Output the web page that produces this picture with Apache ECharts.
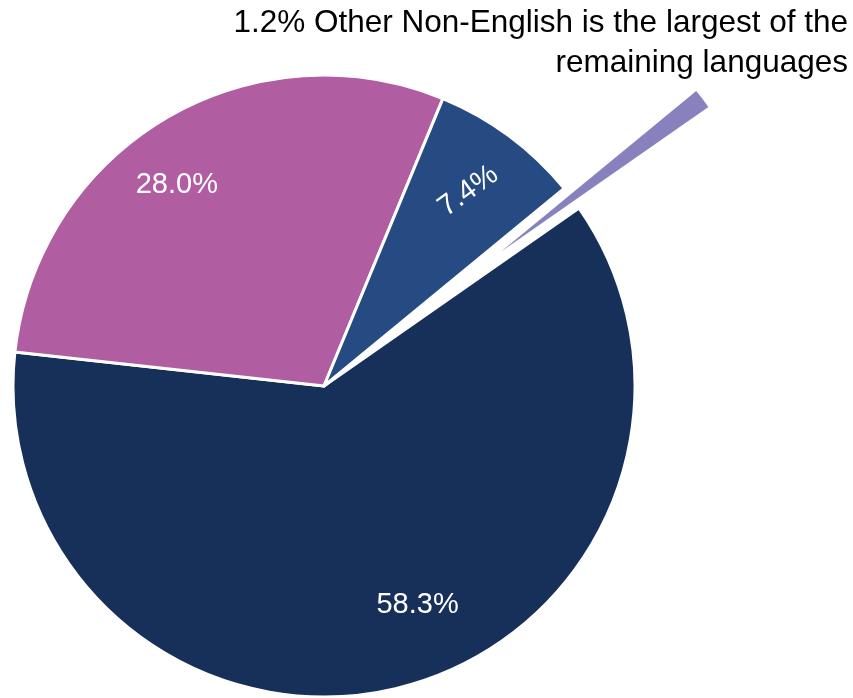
<!DOCTYPE html>
<html>
<head>
<meta charset="utf-8">
<script src="https://cdn.jsdelivr.net/npm/echarts@6/dist/echarts.min.js"></script>
<style>
  html, body { margin: 0; padding: 0; background: #ffffff; }
  #chart { width: 853px; height: 698px; }
</style>
</head>
<body>
<div id="chart"></div>
<script>
// Language shares (percent)
const categories = ['English', 'Language B', 'Language C', 'Other Non-English'];
const values = [58.3, 28.0, 7.4, 1.2];
const colors = ['#17305A', '#B05EA1', '#264A82', '#8782BE'];
const noteLines = ['1.2% Other Non-English is the largest of the', 'remaining languages'];

// Pie geometry
const CX = 324, CY = 386, R = 311;
const START = 34.9;           // ECharts startAngle (degrees, ccw from 3 o'clock)
const HIGHLIGHT = 3;          // index of the pulled-out slice

// Label placement inside each slice: [fraction along the slice's arc, fraction of radius]
const labelPlace = [[0.46, 0.765], [0.447, 0.80], [0.5, 0.78], [0.5, 0.5]];
const labelRotate = [0, 0, 36, 0];

const total = values.reduce((a, b) => a + b, 0);
function labelPos(i) {
  let before = 0;
  for (let k = 0; k < i; k++) before += values[k];
  const startCw = 90 - START;
  const a0 = startCw + before / total * 360;
  const span = values[i] / total * 360;
  const ang = (a0 + labelPlace[i][0] * span) * Math.PI / 180;
  const rr = R * labelPlace[i][1];
  return { x: CX + rr * Math.sin(ang), y: CY - rr * Math.cos(ang) };
}

const mainData = categories.map((name, i) => ({
  name,
  value: values[i],
  itemStyle: i === HIGHLIGHT
    ? { color: 'rgba(0,0,0,0)', borderWidth: 0 }
    : { color: colors[i] },
  label: i === HIGHLIGHT ? { show: false } : { show: true, rotate: labelRotate[i] }
}));

const pulledData = categories.map((name, i) => ({
  name,
  value: values[i],
  selected: i === HIGHLIGHT,
  itemStyle: i === HIGHLIGHT ? { color: colors[i] } : { color: 'rgba(0,0,0,0)' }
}));

// Right-aligned note, one text element per line
const noteGraphics = noteLines.map((line, i) => ({
  type: 'text',
  right: 5,
  top: 3 + i * 40,
  silent: true,
  style: {
    text: line,
    fontFamily: 'Liberation Sans, Arial, sans-serif',
    fontSize: 31.5,
    lineHeight: 40,
    fill: '#000000'
  }
}));

const chart = echarts.init(document.getElementById('chart'), null, { renderer: 'canvas' });
chart.setOption({
  animation: false,
  backgroundColor: '#ffffff',
  graphic: noteGraphics,
  series: [
    {
      type: 'pie',
      center: [CX, CY],
      radius: [0, R],
      startAngle: START,
      clockwise: true,
      silent: true,
      avoidLabelOverlap: false,
      itemStyle: { borderColor: '#ffffff', borderWidth: 3 },
      label: {
        position: 'inside',
        formatter: p => p.value.toFixed(1) + '%',
        color: '#ffffff',
        fontFamily: 'Liberation Sans, Arial, sans-serif',
        fontSize: 29
      },
      labelLine: { show: false },
      labelLayout: p => labelPos(p.dataIndex),
      emphasis: { disabled: true },
      data: mainData
    },
    {
      type: 'pie',
      center: [CX, CY],
      radius: [0, 253],
      startAngle: START,
      clockwise: true,
      silent: true,
      selectedMode: 'single',
      selectedOffset: 222,
      label: { show: false },
      labelLine: { show: false },
      emphasis: { disabled: true },
      data: pulledData
    }
  ]
});
</script>
</body>
</html>
